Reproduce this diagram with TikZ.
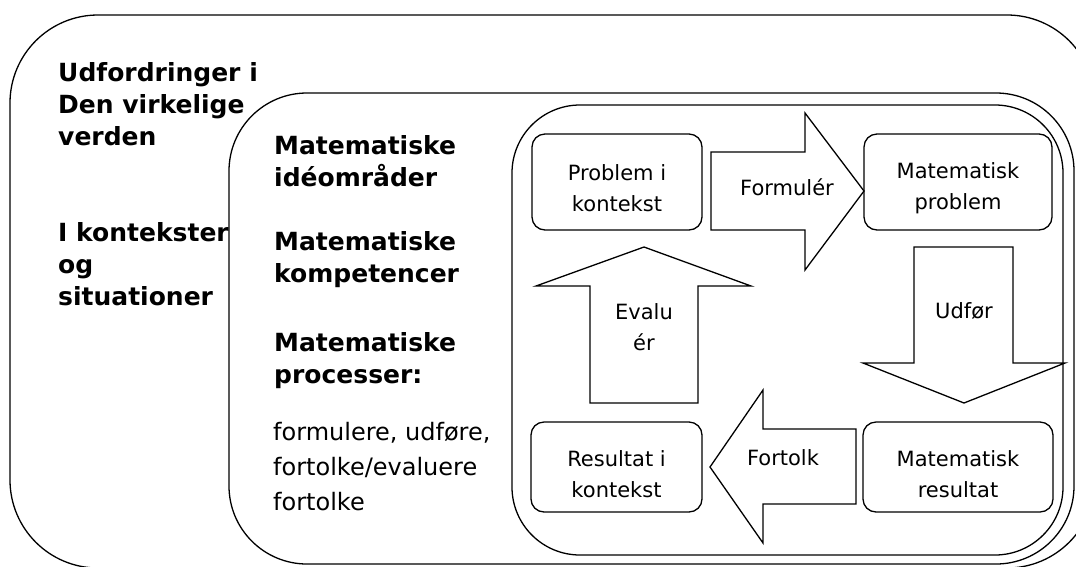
\documentclass[tikz,border=0pt]{standalone}
\usepackage{fontspec}
\setmainfont{DejaVu Sans}
\usepackage{tikz}

\newcommand{\boxfont}{\fontsize{21}{31}\selectfont}
\newcommand{\headfont}{\fontsize{25}{32}\selectfont\bfseries}
\newcommand{\bodyfont}{\fontsize{24}{35}\selectfont}

\tikzset{
  ramme/.style = {draw, line width = 1.3},
  boks/.style = {draw, rounded corners = 13, line width = 1.3, inner sep = 0},
  bokstekst/.style = {align = center, inner sep = 0, font = \boxfont},
  pil/.style = {draw, line width = 1.3, line join = miter},
  piltekst/.style = {anchor = base, align = center, inner sep = 0, font = \boxfont},
  overskrift/.style = {anchor = base west, align = left, inner sep = 0, font = \headfont},
  brødtekst/.style = {anchor = base west, align = left, inner sep = 0, font = \bodyfont},
}

\begin{document}
\begin{tikzpicture}[x = 1pt, y = -1pt]
        \clip (0,0) rectangle (1076,566);

        % de tre rammer
        \draw [ramme, rounded corners = 88]
        (10,15) rectangle (1095,568);

        \draw [ramme, rounded corners = 78]
        (229,93) rectangle (1074,564);

        \draw [ramme, rounded corners = 68]
        (512,105) rectangle (1063,555);

        % tekst til venstre (ankeret sidder paa sidste linje)
        \node [overskrift] (virkelig) at (58,145)
        {Udfordringer i\\Den virkelige\\verden};

        \node [overskrift] (kontekster) at (58,305)
        {I kontekster\\og\\situationer};

        \node [overskrift] (ideer) at (274,186)
        {Matematiske\\idéområder};

        \node [overskrift] (kompetencer) at (274,282)
        {Matematiske\\kompetencer};

        \node [overskrift] (processer) at (274,383)
        {Matematiske\\processer:};

        \node [brødtekst] (liste) at (273,510)
        {formulere, udføre,\\fortolke/evaluere\\fortolke};

        % de fire kasser
        \node [boks, minimum width = 170, minimum height = 96] (pk) at (617,182) {};
        \node [bokstekst] (pk-tekst) at ([yshift = -6]pk.center) {Problem i\\kontekst};

        \node [boks, minimum width = 188, minimum height = 96] (mp) at (958,182) {};
        \node [bokstekst] (mp-tekst) at ([yshift = -6]mp.center) {Matematisk\\problem};

        \node [boks, minimum width = 171, minimum height = 90] (rk) at (616.5,467) {};
        \node [bokstekst] (rk-tekst) at ([yshift = -7]rk.center) {Resultat i\\kontekst};

        \node [boks, minimum width = 190, minimum height = 90] (mr) at (958,467) {};
        \node [bokstekst] (mr-tekst) at ([yshift = -7]mr.center) {Matematisk\\resultat};

        % blokpile
        \draw [pil]
        (711,152) -- (805,152) -- (805,113) -- (864,191) -- (805,270) -- (805,230) -- (711,230) -- cycle;

        \draw [pil]
        (914,247) -- (1013,247) -- (1013,363) -- (1065,363) -- (964,403) -- (863,363) -- (914,363) -- cycle;

        \draw [pil]
        (856,429) -- (763,429) -- (763,390) -- (710,467) -- (763,543) -- (763,504) -- (856,504) -- cycle;

        \draw [pil]
        (590,403) -- (590,286) -- (536,286) -- (644,247) -- (751,286) -- (698,286) -- (698,403) -- cycle;

        \node [piltekst] (formuler) at (787,195) {Formulér};
        \node [piltekst] (udfor) at (964,318) {Udfør};
        \node [piltekst] (fortolk) at (783,465) {Fortolk};
        \node [piltekst] (evaluer) at (644,350) {Evalu\\ér};
    \end{tikzpicture}
\end{document}
